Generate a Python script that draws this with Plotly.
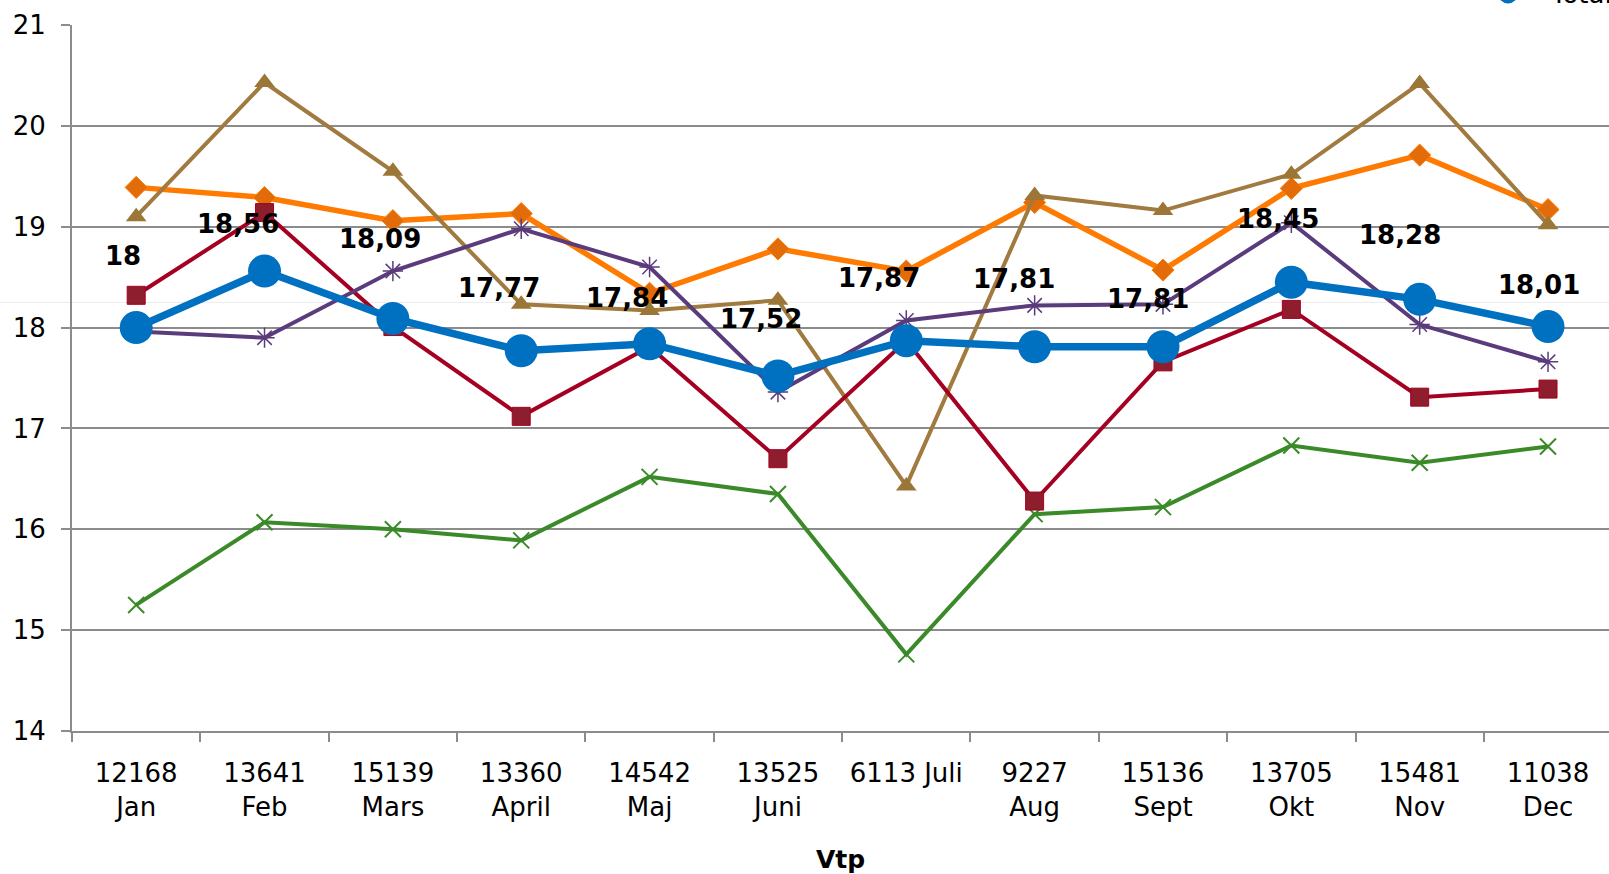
import plotly.graph_objects as go

# Vtp counts and month names (x-axis categories)
vtp = ["12168", "13641", "15139", "13360", "14542", "13525",
       "6113", "9227", "15136", "13705", "15481", "11038"]
months = ["Jan", "Feb", "Mars", "April", "Maj", "Juni",
          "Juli", "Aug", "Sept", "Okt", "Nov", "Dec"]

# series values
totalt = [18.00, 18.56, 18.09, 17.77, 17.84, 17.52, 17.87, 17.81, 17.81, 18.45, 18.28, 18.01]
orange_vals = [19.39, 19.29, 19.06, 19.13, 18.34, 18.78, 18.56, 19.24, 18.57, 19.38, 19.71, 19.17]
brown_vals = [19.10, 20.43, 19.55, 18.23, 18.17, 18.27, 16.43, 19.31, 19.16, 19.52, 20.42, 19.02]
red_vals = [18.32, 19.14, 18.01, 17.12, 17.81, 16.70, 17.87, 16.28, 17.66, 18.18, 17.31, 17.39]
purple_vals = [17.96, 17.90, 18.56, 18.98, 18.60, 17.36, 18.07, 18.22, 18.23, 19.04, 18.03, 17.66]
green_vals = [15.25, 16.07, 16.00, 15.89, 16.52, 16.35, 14.76, 16.15, 16.22, 16.83, 16.66, 16.82]

# "6113 Juli" sits on one line in the original
cats = [f"{v} {m}" if m == "Juli" else f"{v}<br>{m}" for v, m in zip(vtp, months)]

FONT = "DejaVu Sans"
BLUE = "#0070C0"
fig = go.Figure()

fig.add_trace(go.Scatter(x=cats, y=green_vals, mode="lines+markers", showlegend=False,
                         line=dict(color="#3B8A2A", width=4),
                         marker=dict(symbol="x-thin-open", size=16,
                                     line=dict(color="#3B8A2A", width=2))))
fig.add_trace(go.Scatter(x=cats, y=orange_vals, mode="lines+markers", showlegend=False,
                         line=dict(color="#FF7A00", width=5.5),
                         marker=dict(symbol="diamond", size=17, color="#E36C0A",
                                     line=dict(color="#FF7A00", width=1))))
fig.add_trace(go.Scatter(x=cats, y=brown_vals, mode="lines+markers", showlegend=False,
                         line=dict(color="#A07A3E", width=4),
                         marker=dict(symbol="triangle-up", size=18, color="#9C7636")))
fig.add_trace(go.Scatter(x=cats, y=red_vals, mode="lines+markers", showlegend=False,
                         line=dict(color="#A50021", width=4),
                         marker=dict(symbol="square", size=18, color="#8E1D2E",
                                     line=dict(color="#A50021", width=1))))
fig.add_trace(go.Scatter(x=cats, y=purple_vals, mode="lines+markers", showlegend=False,
                         line=dict(color="#5A3B7C", width=4),
                         marker=dict(symbol="asterisk-open", size=17,
                                     line=dict(color="#5A3B7C", width=1.5))))
fig.add_trace(go.Scatter(x=cats, y=totalt, mode="lines+markers", name="Totalt",
                         showlegend=False,
                         line=dict(color=BLUE, width=7.5),
                         marker=dict(symbol="circle", size=33, color=BLUE)))

# data labels for the total series, nudged like in the original
label_dx = [-13, -27, -13, -22, -23, -17, -27, -21, -15, -13, -20, -9]
label_dy = [-72, -47, -79, -63, -46, -57, -63, -68, -48, -63, -64, -42]
for c, v, dx, dy in zip(cats, totalt, label_dx, label_dy):
    txt = f"{v:.2f}".rstrip("0").rstrip(".").replace(".", ",")
    fig.add_annotation(x=c, y=v, text=f"<b>{txt}</b>", showarrow=False,
                       xshift=dx, yshift=-dy,
                       font=dict(family=FONT, size=26, color="#000000"))

# legend, cut off by the top edge as in the original
fig.add_shape(type="circle", xref="paper", yref="paper",
              x0=0.9278, x1=0.9408, y0=1.0305, y1=1.0588,
              fillcolor=BLUE, line=dict(color=BLUE, width=0))
fig.add_annotation(xref="paper", yref="paper", x=0.9603, y=1.0445,
                   xanchor="left", yanchor="middle", text="Totalt", showarrow=False,
                   font=dict(family=FONT, size=26, color="#000000"))

# faint horizontal streak seen across the original image
fig.add_shape(type="line", xref="paper", yref="y", x0=-0.1, x1=1.0, y0=18.25, y1=18.25,
              line=dict(color="#EBEBEB", width=1), layer="below")

fig.update_layout(
    width=1609, height=874,
    margin=dict(l=72, r=0, t=25, b=143, autoexpand=False),
    paper_bgcolor="white", plot_bgcolor="white",
    font=dict(family=FONT, color="#000000"),
    showlegend=False,
)
fig.update_xaxes(type="category", tickson="boundaries", range=[-0.5, 11.475],
                 showline=True, linecolor="#8C8C8C", linewidth=2,
                 ticks="outside", ticklen=9, tickcolor="#8C8C8C", tickwidth=2,
                 ticklabelstandoff=18,
                 showgrid=False, tickfont=dict(family=FONT, size=26, color="#000000"),
                 title=dict(text="<b>Vtp</b>", standoff=32,
                            font=dict(family=FONT, size=25, color="#000000")))
fig.update_yaxes(range=[14, 21], dtick=1, showgrid=True, gridcolor="#8C8C8C", gridwidth=2,
                 showline=True, linecolor="#8C8C8C", linewidth=2, zeroline=False,
                 ticks="outside", ticklen=9, tickcolor="#8C8C8C", tickwidth=2,
                 ticklabelstandoff=10,
                 tickfont=dict(family=FONT, size=26, color="#000000"))

# the page's default body margin would shift the chart by 8px
fig.write_html("out.html", config={"displayModeBar": False},
               post_script="document.body.style.margin='0px';")
